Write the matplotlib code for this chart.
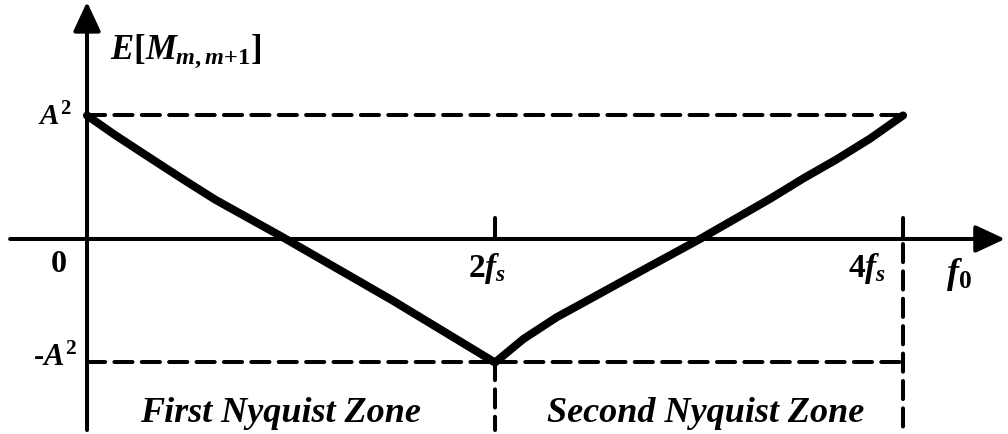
import matplotlib
matplotlib.use("Agg")
import matplotlib.pyplot as plt

# Expected correlation E[M_{m,m+1}] versus input frequency f0 (in units of fs)
f0 = [0.0, 0.139, 0.302, 0.466, 0.629, 0.946, 1.5, 2.0,
      2.139, 2.302, 2.466, 2.629, 3.005, 3.348, 3.511, 3.675, 3.838, 4.0]
corr = [1.0, 0.840, 0.664, 0.488, 0.318, 0.027, -0.5, -1.0,
        -0.810, -0.634, -0.486, -0.338, 0.0, 0.325, 0.490, 0.645, 0.812, 1.0]

tick_pos = [2.0, 4.0]
tick_labels = [r"$2f_s$", r"$4f_s$"]
level_vals = [1.0, -1.0]
zone_names = ["First Nyquist Zone", "Second Nyquist Zone"]
zone_edges = [0.0, 2.0, 4.0]

plt.rcParams["mathtext.fontset"] = "custom"
plt.rcParams["mathtext.rm"] = "Liberation Serif:bold"
plt.rcParams["mathtext.bf"] = "Liberation Serif:bold"
plt.rcParams["mathtext.it"] = "Liberation Serif:bold:italic"
plt.rcParams["font.family"] = ["Liberation Serif", "DejaVu Serif"]

fig = plt.figure(figsize=(10.08, 4.34), dpi=100)
ax = fig.add_axes([0, 0, 1, 1])
ax.set_xlim(-0.4265, 4.5147)
ax.set_ylim(-1.579, 1.935)
ax.axis("off")

axis_lw = 2.9
dash = (0, (4.5, 2.3))

# axes with arrow heads
arrow = dict(arrowstyle="-|>,head_length=0.9,head_width=0.42", lw=axis_lw,
             color="k", shrinkA=0, shrinkB=0, mutation_scale=20)
ax.annotate("", xy=(4.50, 0.0), xytext=(-0.377, 0.0), arrowprops=arrow)
ax.annotate("", xy=(0.0, 1.92), xytext=(0.0, -1.547), arrowprops=arrow)

# reference levels +A^2 and -A^2
for v in level_vals:
    ax.plot([0.0, zone_edges[-1]], [v, v], color="k", lw=axis_lw, linestyle=dash,
            dash_capstyle="round")

# ticks and zone separators
for t in tick_pos:
    ax.plot([t, t], [0.0, 0.17], color="k", lw=axis_lw, solid_capstyle="round")
ax.plot([2.0, 2.0], [-1.0, -1.547], color="k", lw=axis_lw, linestyle=dash,
        dash_capstyle="round")
ax.plot([4.0, 4.0], [-0.04, -1.547], color="k", lw=axis_lw, linestyle=dash,
        dash_capstyle="round")

# curve
ax.plot(f0, corr, color="k", lw=5.8, solid_capstyle="round", solid_joinstyle="round")

# labels
ax.text(0.113, 1.522, r"$E[M_{m,m{+}\mathit{1}}]$", fontsize=25, ha="left", va="center")
ax.text(-0.0735, 0.99, r"$A^2$", fontsize=21, ha="right", va="center")
ax.text(-0.049, -0.97, "-" + r"$A^2$", fontsize=22, ha="right", va="center",
        fontweight="bold")
ax.text(-0.137, -0.21, "0", fontsize=23, ha="center", va="center", fontweight="bold")
for t, lab, cx in zip(tick_pos, tick_labels, [1.96, 3.824]):
    ax.text(cx, -0.235, lab, fontsize=24, ha="center", va="center")
ax.text(4.275, -0.29, r"$f_{\mathit{0}}$", fontsize=26, ha="center", va="center")

for name, a, b, cx in zip(zone_names, zone_edges[:-1], zone_edges[1:], [0.946, 3.034]):
    ax.text(cx, -1.482, name, fontsize=26, ha="center", va="baseline",
            fontweight="bold", fontstyle="italic")

fig.savefig("out.png", dpi=100)
